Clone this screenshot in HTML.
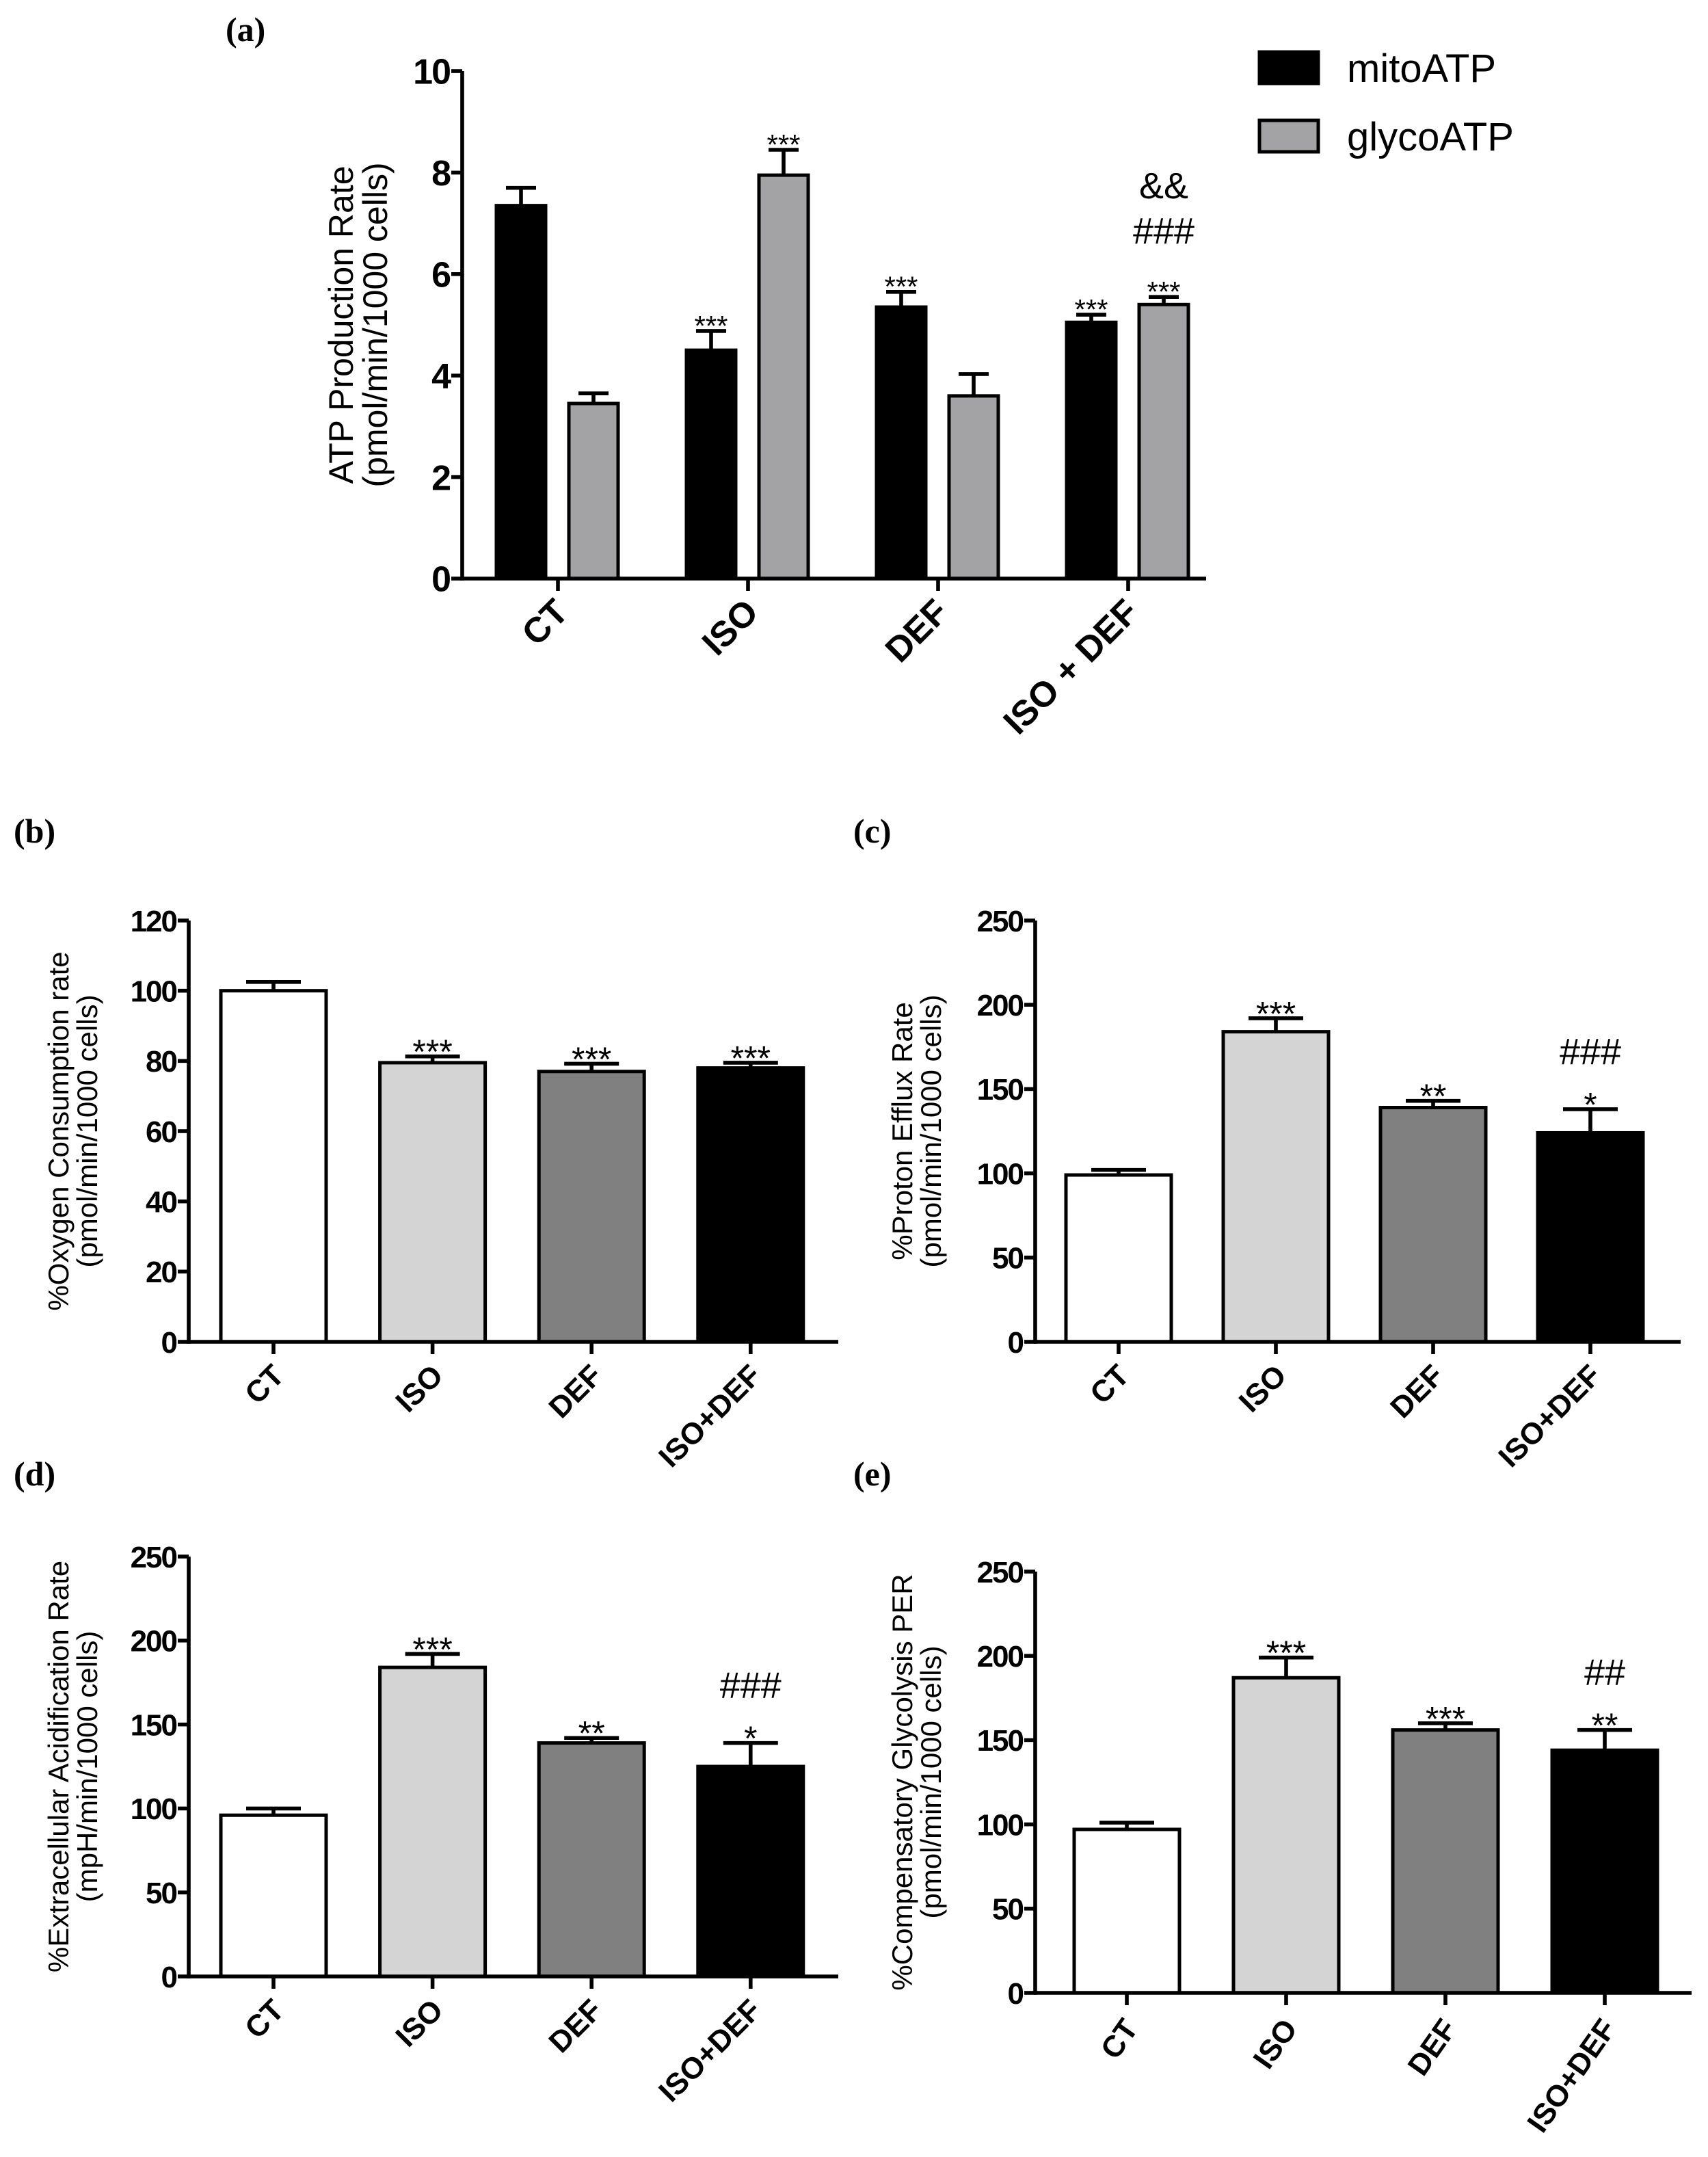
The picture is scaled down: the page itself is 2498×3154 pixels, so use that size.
<!DOCTYPE html>
<html><head><meta charset="utf-8"><style>
html,body{margin:0;padding:0;background:#fff;}
svg{display:block;}
text{font-family:"Liberation Sans",Arial,sans-serif;}
text.serif{font-family:"Liberation Serif",serif;}
</style></head><body>
<svg id="fig" width="2498" height="3154" viewBox="0 0 1249 1577" xmlns="http://www.w3.org/2000/svg">
<rect x="0" y="0" width="1249" height="1577" fill="#fff"/>
</svg>
<script>
// ---- data ----
const catsA = ["CT","ISO","DEF","ISO + DEF"];
const mitoVals = [7.35,4.5,5.35,5.05];
const mitoErr = [0.35,0.38,0.3,0.15];
const glycoVals = [3.45,7.95,3.6,5.4];
const glycoErr = [0.2,0.5,0.43,0.15];
const mitoSig = ["","***","***","***"];
const glycoSig = ["","***","",["***","###","&&"]];
const ticksA = [0,2,4,6,8,10];

const cats = ["CT","ISO","DEF","ISO+DEF"];
const ocrVals = [100,79.5,77,78];
const ocrErr = [2.5,1.8,2.2,1.5];
const ocrSig = ["","***","***","***"];
const ticksB = [0,20,40,60,80,100,120];

const perVals = [99,184,139,124];
const perErr = [3,8,4,14];
const perSig = ["","***","**",["*","###"]];
const ticks250 = [0,50,100,150,200,250];

const ecarVals = [96,184,139,125];
const ecarErr = [4,8,3,14];
const ecarSig = ["","***","**",["*","###"]];

const compVals = [97,187,156,144];
const compErr = [4,12,4,12];
const compSig = ["","***","***",["**","##"]];

const NS="http://www.w3.org/2000/svg";
const svg=document.getElementById('fig');
function mk(tag,attrs,parent,text){const e=document.createElementNS(NS,tag);for(const k in attrs)e.setAttribute(k,attrs[k]);if(text!==undefined)e.textContent=text;(parent||svg).appendChild(e);return e;}

function panel(cfg){
  const g=mk('g',{},svg);
  
  
  const yS=v=>cfg.y0-(v-cfg.min)/(cfg.max-cfg.min)*(cfg.y0-cfg.yTop);
  cfg.ticks.forEach(t=>{
    const y=yS(t);
    const tk=mk('line',{x1:cfg.ax-8,x2:cfg.ax,y1:y,y2:y,stroke:'#000','stroke-width':2.8},g);
    
    
    const tl=mk('text',{x:cfg.ax-9,y:y+cfg.tickFs*0.36,'text-anchor':'end','font-size':cfg.tickFs,'font-weight':'bold','letter-spacing':-1},g,String(t));
    
    
  });
  const tt=mk('text',{transform:`translate(${cfg.titleX},${(cfg.y0+cfg.yTop)/2}) rotate(-90)`,'text-anchor':'middle','font-size':cfg.titleFs},g);
  
  
  mk('tspan',{x:0,dy:0},tt,cfg.title[0]);
  mk('tspan',{x:0,dy:cfg.titleFs*1.0},tt,cfg.title[1]);
  cfg.series.forEach(s=>{
    s.vals.forEach((v,i)=>{
      const cx=cfg.catX(i)+s.off;
      const top=yS(v);
      const eTop=yS(v+s.err[i]);
      const el=mk('line',{x1:cx,x2:cx,y1:top,y2:eTop,stroke:'#000','stroke-width':2.8},g);
      
      
      const ec=mk('line',{x1:cx-cfg.capW/2,x2:cx+cfg.capW/2,y1:eTop,y2:eTop,stroke:'#000','stroke-width':2.8},g);
      
      
      const r=mk('rect',{x:cx-cfg.bw/2,y:top,width:cfg.bw,height:cfg.y0-top,fill:s.fills[i],stroke:'#000','stroke-width':2.5},g);
      
      
      let sig=s.sig[i]; if(!sig) return;
      if(!Array.isArray(sig)) sig=[sig];
      sig.forEach((t,k)=>{
        const isStar=t.indexOf('*')>=0;
        const y=eTop-6-k*cfg.sigStep+(isStar?cfg.starFs*0.45:0);
        const st=mk('text',{x:cx,y:y,'text-anchor':'middle','font-size':isStar?cfg.starFs:cfg.hashFs},g,t);
        
        
      });
    });
  });
  const ya=mk('line',{x1:cfg.ax,x2:cfg.ax,y1:cfg.yTop,y2:cfg.y0+1.4,stroke:'#000','stroke-width':2.8},g);
  
  
  const xa=mk('line',{x1:cfg.ax,x2:cfg.xEnd,y1:cfg.y0,y2:cfg.y0,stroke:'#000','stroke-width':2.8},g);
  
  
  cfg.cats.forEach((c,i)=>{
    const x=cfg.catX(i);
    const t=mk('line',{x1:x,x2:x,y1:cfg.y0,y2:cfg.y0+9,stroke:'#000','stroke-width':2.8},g);
    
    
    const l=mk('text',{transform:`translate(${x+9},${cfg.y0+26}) rotate(${cfg.rot})`,'text-anchor':'end','font-size':cfg.catFs,'font-weight':'bold'},g,c);
    
    
  });
}

const wht='#ffffff',lg='#d4d4d4',dg='#808080',blk='#000000';
panel({name:'panel-a-atp-production',ax:338,y0:423,yTop:52,min:0,max:10,ticks:ticksA,tickFs:26,titleX:258,titleFs:25,
  title:['ATP Production Rate','(pmol/min/1000 cells)'],cats:catsA,catX:i=>408+i*139,xEnd:882,bw:36,capW:22,
  catFs:26,rot:-45,starFs:21,hashFs:27,sigStep:33,
  series:[{key:'mitoatp',vals:mitoVals,err:mitoErr,sig:mitoSig,off:-27,fills:[blk,blk,blk,blk]},
          {key:'glycoatp',vals:glycoVals,err:glycoErr,sig:glycoSig,off:26,fills:['#a3a3a6','#a3a3a6','#a3a3a6','#a3a3a6']}]});
(function(){
  const items=[['mitoATP','#000'],['glycoATP','#a3a3a6']];
  items.forEach((it,k)=>{
    const y=38+k*50;
    const r=mk('rect',{x:921,y:y,width:43,height:23,fill:it[1],stroke:'#000','stroke-width':2.5});
    
    
    const t=mk('text',{x:985,y:y+22,'font-size':29},svg,it[0]);
    
    
  });
})();
const common={catX:null,bw:77,capW:40,catFs:22,rot:-45,tickFs:22,titleFs:21,starFs:25,hashFs:27,sigStep:27};
panel(Object.assign({},common,{name:'panel-b-ocr',ax:138,y0:981,yTop:673,min:0,max:120,ticks:ticksB,titleX:50,
  title:['%Oxygen Consumption rate','(pmol/min/1000 cells)'],cats:cats,catX:i=>200+i*116.3,xEnd:613,
  series:[{vals:ocrVals,err:ocrErr,sig:ocrSig,off:0,fills:[wht,lg,dg,blk]}]}));
panel(Object.assign({},common,{name:'panel-c-per',ax:757,y0:981,yTop:673,min:0,max:250,ticks:ticks250,titleX:667,
  title:['%Proton Efflux Rate','(pmol/min/1000 cells)'],cats:cats,catX:i=>818+i*115,xEnd:1229,
  series:[{vals:perVals,err:perErr,sig:perSig,off:0,fills:[wht,lg,dg,blk]}]}));
panel(Object.assign({},common,{name:'panel-d-ecar',ax:138,y0:1445,yTop:1138,min:0,max:250,ticks:ticks250,titleX:50,
  title:['%Extracellular Acidification Rate','(mpH/min/1000 cells)'],cats:cats,catX:i=>200+i*116.3,xEnd:613,
  series:[{vals:ecarVals,err:ecarErr,sig:ecarSig,off:0,fills:[wht,lg,dg,blk]}]}));
panel(Object.assign({},common,{name:'panel-e-compensatory-glycolysis',ax:757,y0:1457,yTop:1149,min:0,max:250,ticks:ticks250,titleX:667,rot:-55,
  title:['%Compensatory Glycolysis PER','(pmol/min/1000 cells)'],cats:cats,catX:i=>824+i*116.5,xEnd:1237,
  series:[{vals:compVals,err:compErr,sig:compSig,off:0,fills:[wht,lg,dg,blk]}]}));

[['(a)',165,30],['(b)',10,616],['(c)',624,616],['(d)',10,1086],['(e)',624,1086]].forEach(p=>{
  const t=mk('text',{x:p[1],y:p[2],'font-size':25,'font-weight':'bold','class':'serif'},svg,p[0]);
  
  
});
</script>
</body></html>
